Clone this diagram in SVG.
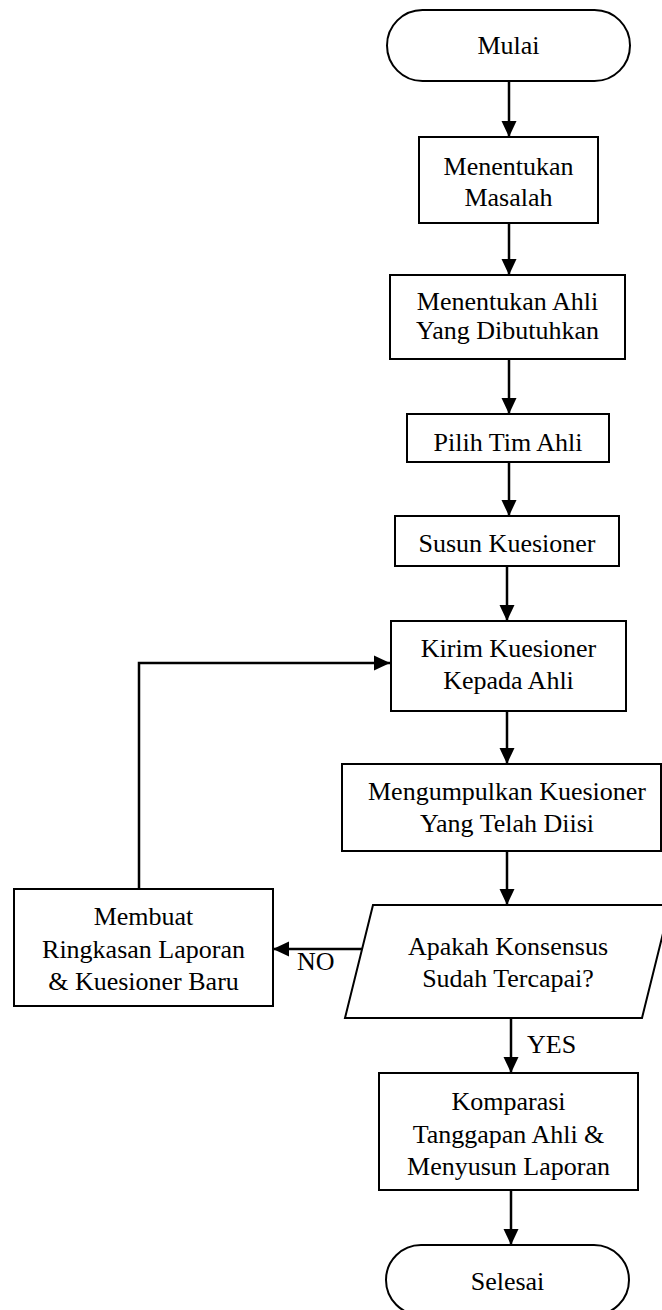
<svg xmlns="http://www.w3.org/2000/svg" width="662" height="1310" viewBox="0 0 662 1310">
<style>
.shape{fill:#fff;stroke:#000;stroke-width:2}
.conn{fill:none;stroke:#000;stroke-width:2.5}
text{font-family:'Liberation Serif','Times New Roman',serif;font-size:26px;fill:#000;text-anchor:middle}
.lbl{text-anchor:start}
</style>
<defs>
<marker id="arr" markerUnits="userSpaceOnUse" markerWidth="16" markerHeight="16" refX="16" refY="8" orient="auto">
<path d="M0,0.5 L16,8 L0,15.5 z" fill="#000"/>
</marker>
<clipPath id="clip2"><rect x="390" y="275" width="235" height="73"/></clipPath>
</defs>
<rect width="662" height="1310" fill="#fff"/>
<g id="connectors">
<path class="conn" d="M509,81 V137" marker-end="url(#arr)"/>
<path class="conn" d="M509,223 V275" marker-end="url(#arr)"/>
<path class="conn" d="M509,359 V414" marker-end="url(#arr)"/>
<path class="conn" d="M509,462 V516" marker-end="url(#arr)"/>
<path class="conn" d="M507,566 V621" marker-end="url(#arr)"/>
<path class="conn" d="M139,889 V663 H390" marker-end="url(#arr)"/>
<path class="conn" d="M507,711 V764" marker-end="url(#arr)"/>
<path class="conn" d="M507,851 V905" marker-end="url(#arr)"/>
<path class="conn" d="M362,949 H273" marker-end="url(#arr)"/>
<path class="conn" d="M511,1018 V1073" marker-end="url(#arr)"/>
<path class="conn" d="M511,1190 V1245" marker-end="url(#arr)"/>
<text class="lbl" x="297" y="970">NO</text>
<text class="lbl" x="527" y="1053">YES</text>
</g>
<g id="mulai">
<rect class="shape" x="387" y="10" width="243" height="71" rx="35.5"/>
<text x="508.5" y="54">Mulai</text>
</g>
<g id="menentukan-masalah">
<rect class="shape" x="419" y="137" width="179" height="86"/>
<text x="508.5" y="175">Menentukan</text>
<text x="508.5" y="206">Masalah</text>
</g>
<g id="menentukan-ahli">
<rect class="shape" x="390" y="275" width="235" height="84"/>
<g clip-path="url(#clip2)">
<text x="507.5" y="310">Menentukan Ahli</text>
<text x="507.5" y="339">Yang Dibutuhkan</text>
</g>
</g>
<g id="pilih-tim">
<rect class="shape" x="407" y="414" width="202" height="48"/>
<text x="508" y="451">Pilih Tim Ahli</text>
</g>
<g id="susun-kuesioner">
<rect class="shape" x="395" y="516" width="224" height="50"/>
<text x="507" y="552">Susun Kuesioner</text>
</g>
<g id="kirim-kuesioner">
<rect class="shape" x="391" y="621" width="235" height="90"/>
<text x="508.5" y="657">Kirim Kuesioner</text>
<text x="508.5" y="689">Kepada Ahli</text>
</g>
<g id="mengumpulkan">
<rect class="shape" x="342" y="764" width="319" height="87"/>
<text x="507" y="800">Mengumpulkan Kuesioner</text>
<text x="507" y="832">Yang Telah Diisi</text>
</g>
<g id="konsensus">
<polygon class="shape" points="373,905 670,905 642,1018 345,1018"/>
<text x="508" y="955">Apakah Konsensus</text>
<text x="508" y="987">Sudah Tercapai?</text>
</g>
<g id="membuat-ringkasan">
<rect class="shape" x="14" y="889" width="259" height="117"/>
<text x="143.5" y="925">Membuat</text>
<text x="143.5" y="958">Ringkasan Laporan</text>
<text x="143.5" y="990">&amp; Kuesioner Baru</text>
</g>
<g id="komparasi">
<rect class="shape" x="379" y="1073" width="259" height="117"/>
<text x="508.5" y="1110">Komparasi</text>
<text x="508.5" y="1143">Tanggapan Ahli &amp;</text>
<text x="508.5" y="1175">Menyusun Laporan</text>
</g>
<g id="selesai">
<rect class="shape" x="386" y="1245" width="243" height="70" rx="35"/>
<text x="507.5" y="1290">Selesai</text>
</g>
</svg>
